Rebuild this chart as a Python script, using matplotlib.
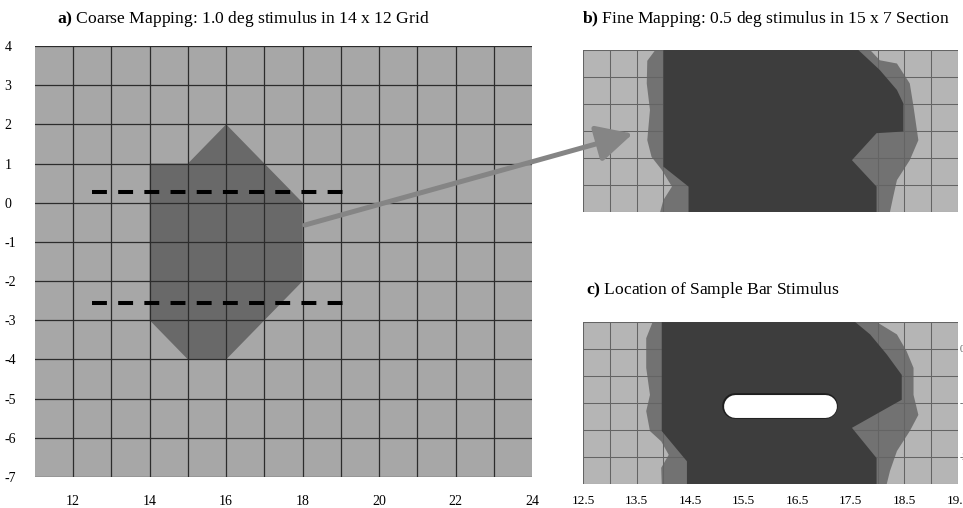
import numpy as np
import matplotlib
matplotlib.use("Agg")
import matplotlib.pyplot as plt
from matplotlib.patches import ConnectionPatch
from matplotlib.ticker import MultipleLocator, FixedLocator

plt.rcParams['font.family'] = ['Liberation Serif', 'DejaVu Serif']
plt.rcParams['mathtext.fontset'] = 'custom'
plt.rcParams['mathtext.rm'] = 'Liberation Serif'
plt.rcParams['mathtext.bf'] = 'Liberation Serif:bold'

# ---------------- data ----------------
# a) coarse map receptive field polygon (deg)
coarse_x = [14, 15, 16, 18, 18, 16, 15, 14]
coarse_y = [1, 1, 2, 0, -2, -4, -4, -3]
# section selected for fine mapping (dashed lines)
section_x = [12.5, 19.13]
section_y = [0.27, -2.57]
a_xticks = [12, 14, 16, 18, 20, 22, 24]
a_xgrid = [12, 13, 14, 15, 16, 17, 18, 19, 20, 21, 22, 23]
a_yticks = [-7, -6, -5, -4, -3, -2, -1, 0, 1, 2, 3, 4]

# b) fine map: outer (weaker) response and core (strong) response
b_outer_x = [13.85, 13.70, 13.69, 13.75, 13.70, 13.78, 13.97, 14.16, 14.00, 13.94,
             18.23, 18.29, 18.36, 18.60, 18.76, 18.67, 18.60, 18.36, 18.04, 17.86]
b_outer_y = [0.50, 0.30, -0.12, -0.61, -1.17, -1.48, -1.72, -2.03, -2.28, -2.50,
             -2.50, -2.22, -1.91, -1.54, -1.17, -0.55, -0.12, 0.25, 0.31, 0.50]
b_core_x = [14.00, 14.00, 14.47, 14.47, 17.98, 17.98, 17.52, 17.98, 18.48, 18.48,
            18.36, 18.04, 17.64]
b_core_y = [0.50, -1.66, -2.03, -2.50, -2.50, -2.03, -1.54, -1.04, -1.01, -0.49,
            -0.24, 0.13, 0.50]

# c) same map with the sample bar stimulus
c_outer_x = [13.80, 13.68, 13.68, 13.75, 13.68, 13.75, 13.96, 14.10, 13.96, 13.97,
             18.17, 18.23, 18.36, 18.60, 18.76, 18.67, 18.67, 18.54, 18.36, 17.98]
c_outer_y = [0.50, 0.20, -0.35, -0.85, -1.15, -1.52, -1.71, -1.96, -2.20, -2.50,
             -2.50, -2.26, -1.89, -1.52, -1.22, -0.85, -0.35, -0.04, 0.27, 0.50]
c_core_x = [13.97, 13.97, 14.44, 14.44, 17.98, 17.98, 17.52, 18.45, 18.45, 18.17,
            17.86, 17.58]
c_core_y = [0.50, -1.52, -2.08, -2.50, -2.50, -2.02, -1.46, -0.94, -0.48, -0.10,
            0.27, 0.50]
bar_x = [15.33, 17.02]
bar_y = [-1.05, -1.05]
c_xticks = [12.5, 13.5, 14.5, 15.5, 16.5, 17.5, 18.5, 19.5]
c_xlabels = ['12.5', '13.5', '14.5', '15.5', '16.5', '17.5', '18.5', '19.5']
c_yticks = [0, -1, -2]

# arrow from coarse map to fine map
arrow_from = (18.06, -0.57)
arrow_to = (13.43, -1.05)

# ---------------- figure ----------------
W, H = 963, 508
fig = plt.figure(figsize=(W / 100, H / 100), dpi=100)
fig.patch.set_facecolor('white')

def px_axes(l, t, r, b):
    return fig.add_axes([l / W, 1 - b / H, (r - l) / W, (b - t) / H])

ax_a = px_axes(35, 46, 532, 477)
ax_b = px_axes(583, 50, 958, 212)
ax_c = px_axes(583, 322, 958, 484)

light_a = '#a7a7a7'
dark_a = '#696969'
light_f = '#b5b5b5'
mid_f = '#727272'
dark_f = '#3d3d3d'

# ---- panel a ----
ax_a.set_facecolor(light_a)
ax_a.fill(coarse_x, coarse_y, color=dark_a, lw=0, zorder=1)
for yv in section_y:
    ax_a.plot(section_x, [yv, yv], color='black', lw=2.9,
              linestyle=(0, (3.7, 2.8)), zorder=3)
ax_a.set_xlim(11, 24)
ax_a.set_ylim(-7, 4)
ax_a.set_xticks(a_xticks)
ax_a.set_xticklabels([str(v) for v in a_xticks])
ax_a.xaxis.remove_overlapping_locs = False
ax_a.xaxis.set_minor_locator(FixedLocator(a_xgrid))
ax_a.set_yticks(a_yticks)
ax_a.set_yticklabels([str(v) for v in a_yticks])
ax_a.set_axisbelow(False)
ax_a.grid(axis='x', which='minor', color='#2c2c2c', lw=0.9)
ax_a.grid(axis='y', which='major', color='#2c2c2c', lw=0.9)
ax_a.tick_params(which='both', length=0, labelsize=10)
ax_a.tick_params(axis='x', pad=13)
ax_a.tick_params(axis='y', pad=22)
for lab in ax_a.get_yticklabels():
    lab.set_ha('left')
for s in ax_a.spines.values():
    s.set_visible(False)

# ---- panels b and c ----
def fine_panel(ax, ox, oy, cx, cy):
    ax.set_facecolor(light_f)
    ax.fill(ox, oy, color=mid_f, lw=0, zorder=1)
    ax.fill(cx, cy, color=dark_f, lw=0, zorder=3)
    ax.set_xlim(12.5, 19.5)
    ax.set_ylim(-2.5, 0.5)
    ax.xaxis.set_minor_locator(MultipleLocator(0.5))
    ax.yaxis.set_minor_locator(MultipleLocator(0.5))
    ax.grid(which='both', color='#646464', lw=0.75, zorder=2)
    ax.tick_params(which='both', length=0)
    for s in ax.spines.values():
        s.set_visible(False)

fine_panel(ax_b, b_outer_x, b_outer_y, b_core_x, b_core_y)
ax_b.set_xticks(c_xticks)
ax_b.set_yticks(c_yticks)
ax_b.set_xticklabels([])
ax_b.set_yticklabels([])

fine_panel(ax_c, c_outer_x, c_outer_y, c_core_x, c_core_y)
ax_c.plot(bar_x, bar_y, color='#1e1e1e', lw=18.5, solid_capstyle='round', zorder=4)
ax_c.plot(bar_x, bar_y, color='white', lw=16.5, solid_capstyle='round', zorder=5)
ax_c.set_xticks(c_xticks)
ax_c.set_xticklabels(c_xlabels)
ax_c.set_yticks(c_yticks)
ax_c.set_yticklabels([str(v) for v in c_yticks])
ax_c.yaxis.tick_right()
ax_c.tick_params(axis='x', labelsize=9.5, pad=8)
ax_c.tick_params(axis='y', labelsize=7, pad=1.5, labelcolor='#555555')
for lab in ax_c.get_yticklabels():
    lab.set_ha('left')

# ---- titles ----
fig.text(243 / W, 1 - 19 / H,
         r'$\mathbf{a)}$ Coarse Mapping: 1.0 deg stimulus in 14 x 12 Grid',
         ha='center', va='center', fontsize=12.6)
fig.text(766 / W, 1 - 19 / H,
         r'$\mathbf{b)}$ Fine Mapping: 0.5 deg stimulus in 15 x 7 Section',
         ha='center', va='center', fontsize=12.6)
fig.text(586 / W, 1 - 290 / H,
         r'$\mathbf{c)}$ Location of Sample Bar Stimulus',
         ha='left', va='center', fontsize=12.6)

# ---- arrow ----
con = ConnectionPatch(xyA=arrow_from, coordsA=ax_a.transData,
                      xyB=arrow_to, coordsB=ax_b.transData,
                      arrowstyle='-|>,head_length=0.55,head_width=0.28',
                      mutation_scale=40, lw=3.6, color='#858585',
                      shrinkA=0, shrinkB=0, zorder=10)
fig.add_artist(con)

fig.savefig('out.png', dpi=100)
